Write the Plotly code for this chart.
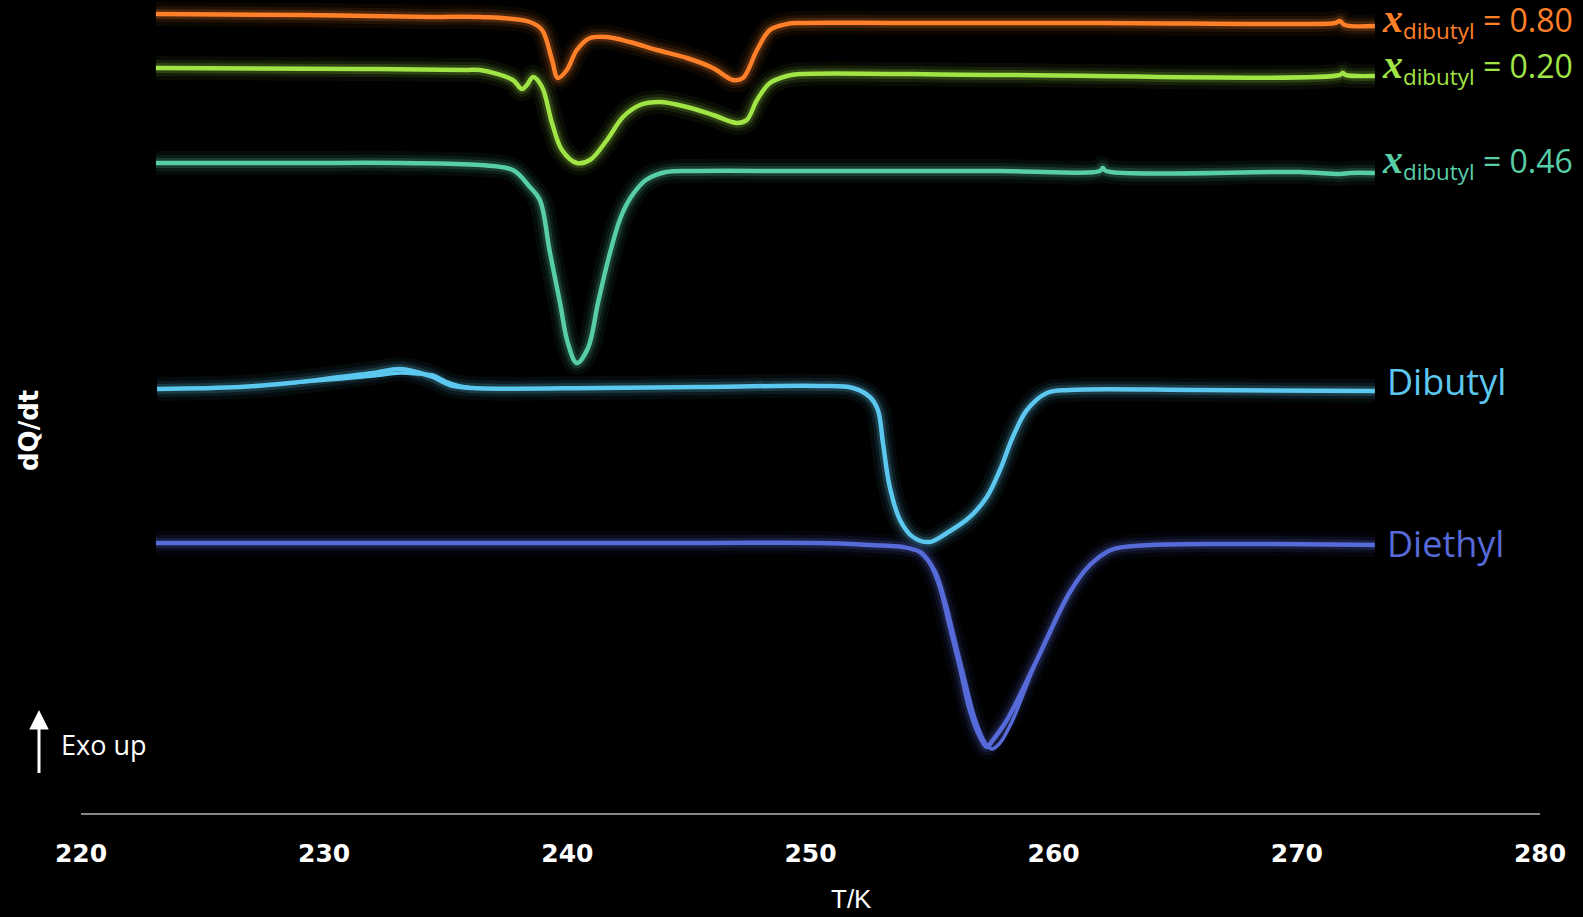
import plotly.graph_objects as go

# ---------------- data (T in K, dQ/dt in arbitrary units, curves offset) ----------------
tick_vals = [220, 230, 240, 250, 260, 270, 280]
tick_text = ["220", "230", "240", "250", "260", "270", "280"]

T_080 = [223.08, 229.13, 234.35, 236.41, 238.46, 238.96, 239.37, 239.61, 239.98, 240.39, 240.93,
         241.63, 242.57, 243.68, 244.92, 245.99, 246.81, 247.22, 247.80, 248.33, 249.03, 249.56,
         253.68, 261.90, 270.12, 271.57, 271.77, 271.97, 273.21]
Q_080 = [7.99, 7.98, 7.96, 7.96, 7.91, 7.83, 7.53, 7.35, 7.43, 7.63, 7.75,
         7.76, 7.71, 7.63, 7.55, 7.45, 7.33, 7.35, 7.63, 7.83, 7.89, 7.90,
         7.90, 7.90, 7.89, 7.90, 7.92, 7.88, 7.87]

T_020 = [223.08, 231.60, 235.79, 236.41, 237.76, 238.13, 238.34, 238.59, 238.96, 239.37, 239.78,
         240.39, 240.93, 241.63, 242.29, 242.99, 243.81, 244.92, 245.99, 246.97, 247.38, 247.80,
         248.33, 249.03, 249.56, 257.79, 271.77, 271.89, 272.01, 273.21]
Q_020 = [7.45, 7.44, 7.43, 7.43, 7.33, 7.24, 7.28, 7.36, 7.26, 6.90, 6.63,
         6.50, 6.53, 6.73, 6.96, 7.08, 7.11, 7.06, 6.98, 6.90, 6.93, 7.13,
         7.30, 7.37, 7.39, 7.38, 7.38, 7.40, 7.38, 7.37]

T_046 = [223.08, 229.00, 233.12, 236.41, 237.76, 238.46, 238.87, 239.28, 239.70, 240.02, 240.39,
         240.85, 241.26, 241.71, 242.20, 242.62, 243.23, 244.06, 245.33, 249.56, 257.79, 261.90,
         262.02, 262.15, 270.12, 271.77, 272.18, 273.21]
Q_046 = [6.50, 6.50, 6.50, 6.48, 6.43, 6.26, 6.13, 5.61, 5.10, 4.70, 4.50,
         4.65, 5.10, 5.56, 5.96, 6.16, 6.33, 6.41, 6.42, 6.42, 6.42, 6.42,
         6.45, 6.42, 6.41, 6.39, 6.40, 6.40]

T_dibutyl = [223.13, 226.54, 228.59, 230.65, 232.01, 233.12, 233.94, 234.47, 235.17, 236.12, 241.34,
             245.45, 250.39, 251.74, 252.44, 252.77, 252.98, 253.26, 253.68, 254.21, 254.91, 255.61,
             256.55, 257.25, 257.79, 258.32, 258.90, 259.72, 260.67, 266.01, 273.21]
Q_dibutyl = [4.24, 4.26, 4.30, 4.36, 4.40, 4.44, 4.40, 4.36, 4.28, 4.25, 4.25,
             4.26, 4.27, 4.25, 4.16, 4.03, 3.70, 3.26, 2.93, 2.76, 2.71, 2.80,
             2.96, 3.16, 3.43, 3.76, 4.03, 4.20, 4.23, 4.23, 4.22]
T_dibutyl_2 = [228.59, 230.65, 232.01, 233.12, 233.94, 234.47, 234.97, 235.58, 236.12]
Q_dibutyl_2 = [4.30, 4.34, 4.37, 4.40, 4.39, 4.38, 4.32, 4.27, 4.25]

T_diethyl = [223.08, 233.12, 245.45, 250.39, 252.44, 253.80, 254.50, 254.91, 255.32, 255.73, 256.14,
             256.55, 256.97, 257.25, 257.50, 258.08, 259.31, 260.67, 261.49, 262.35, 263.99, 268.07, 273.21]
Q_diethyl = [2.70, 2.70, 2.70, 2.70, 2.68, 2.66, 2.61, 2.50, 2.26, 1.86, 1.46,
             1.03, 0.76, 0.66, 0.73, 0.93, 1.53, 2.21, 2.48, 2.63, 2.68, 2.69, 2.68]
T_diethyl_2 = [254.50, 255.11, 255.53, 255.94, 256.35, 256.76, 257.17, 257.46, 257.79, 258.28, 259.31,
               260.67, 261.49, 262.35]
Q_diethyl_2 = [2.61, 2.43, 2.13, 1.73, 1.33, 0.95, 0.71, 0.64, 0.70, 0.91, 1.53,
               2.21, 2.48, 2.63]

series = [
    ("x=0.80", T_080, Q_080, (255, 128, 40), True),
    ("x=0.20", T_020, Q_020, (160, 228, 70), True),
    ("x=0.46", T_046, Q_046, (88, 206, 166), True),
    ("Dibutyl", T_dibutyl, Q_dibutyl, (92, 200, 240), True),
    ("Dibutyl-2", T_dibutyl_2, Q_dibutyl_2, (92, 200, 240), False),
    ("Diethyl", T_diethyl, Q_diethyl, (86, 106, 216), True),
    ("Diethyl-2", T_diethyl_2, Q_diethyl_2, (86, 106, 216), False),
]

# ---------------- figure ----------------
W, H = 1583, 917
L, R, TOP, B = 81, 43, 0, 104
PW, PH = W - L - R, H - TOP - B


def pxx(x):
    return (x - L) / PW


def pxy(y):
    return (H - B - y) / PH


fig = go.Figure()
for name, T, Q, c, glow in series:
    r, g, b = c
    if glow:
        for w, a in [(24, 0.05), (16, 0.09), (10, 0.18)]:
            fig.add_trace(go.Scatter(x=T, y=Q, mode="lines", hoverinfo="skip", showlegend=False,
                                     line=dict(color=f"rgba({r},{g},{b},{a})", width=w,
                                               shape="spline", smoothing=1.0)))
    fig.add_trace(go.Scatter(x=T, y=Q, mode="lines", name=name, showlegend=False,
                             line=dict(color=f"rgb({r},{g},{b})", width=4.5 if glow else 3.5,
                                       shape="spline", smoothing=1.0)))

ann = []
lab_font = "Open Sans"
labels = [
    ("0.80", (255, 128, 40), 21),
    ("0.20", (160, 228, 70), 67),
    ("0.46", (88, 206, 166), 162),
]
for val, c, yc in labels:
    col = f"rgb({c[0]},{c[1]},{c[2]})"
    ann.append(dict(
        xref="paper", yref="paper", x=pxx(1381), y=pxy(yc), xanchor="left", yanchor="middle",
        showarrow=False, borderpad=0,
        text=('<span style="font-family:Liberation Serif;font-size:40px"><b><i>x</i></b></span>'
              f'<sub>dibutyl</sub> = {val}'),
        font=dict(family=lab_font, size=32, color=col)))

ann.append(dict(xref="paper", yref="paper", x=pxx(1385), y=pxy(382), xanchor="left", yanchor="middle",
                showarrow=False, text="Dibutyl",
                font=dict(family=lab_font, size=36, color="rgb(92,200,240)")))
ann.append(dict(xref="paper", yref="paper", x=pxx(1385), y=pxy(543), xanchor="left", yanchor="middle",
                showarrow=False, text="Diethyl",
                font=dict(family=lab_font, size=36, color="rgb(86,106,216)")))

# axis titles
ann.append(dict(xref="paper", yref="paper", x=pxx(851), y=pxy(899), xanchor="center", yanchor="middle",
                showarrow=False, text="T/K",
                font=dict(family="Liberation Sans", size=26, color="white")))
ann.append(dict(xref="paper", yref="paper", x=pxx(29), y=pxy(430), xanchor="center", yanchor="middle",
                showarrow=False, text="dQ/dt", textangle=-90,
                font=dict(family="DejaVu Sans", size=26, color="white", weight="bold")))

# Exo up arrow
ann.append(dict(xref="paper", yref="paper", x=pxx(39), y=pxy(710), ax=0, ay=64,
                showarrow=True, arrowhead=2, arrowsize=1.3, arrowwidth=3, arrowcolor="white",
                text=" ", font=dict(size=1), borderpad=0))
ann.append(dict(xref="paper", yref="paper", x=pxx(59), y=pxy(744), xanchor="left", yanchor="middle",
                showarrow=False, text="Exo up",
                font=dict(family="Open Sans", size=27, color="white")))

fig.update_layout(
    width=W, height=H,
    margin=dict(l=L, r=R, t=TOP, b=B, pad=0),
    paper_bgcolor="black", plot_bgcolor="black",
    annotations=ann,
    xaxis=dict(range=[220, 280], tickvals=tick_vals, ticktext=tick_text,
               showgrid=False, zeroline=False, showline=True, linecolor="rgb(135,135,135)", linewidth=2,
               ticks="outside", ticklen=17, tickcolor="rgba(0,0,0,0)",
               tickfont=dict(family="DejaVu Sans", size=25, color="white", weight="bold")),
    yaxis=dict(range=[0, PH / 100], visible=False, showgrid=False, zeroline=False),
)

fig.write_html("out.html", config={"displayModeBar": False},
               post_script="document.body.style.margin='0';document.body.style.overflow='hidden';")
